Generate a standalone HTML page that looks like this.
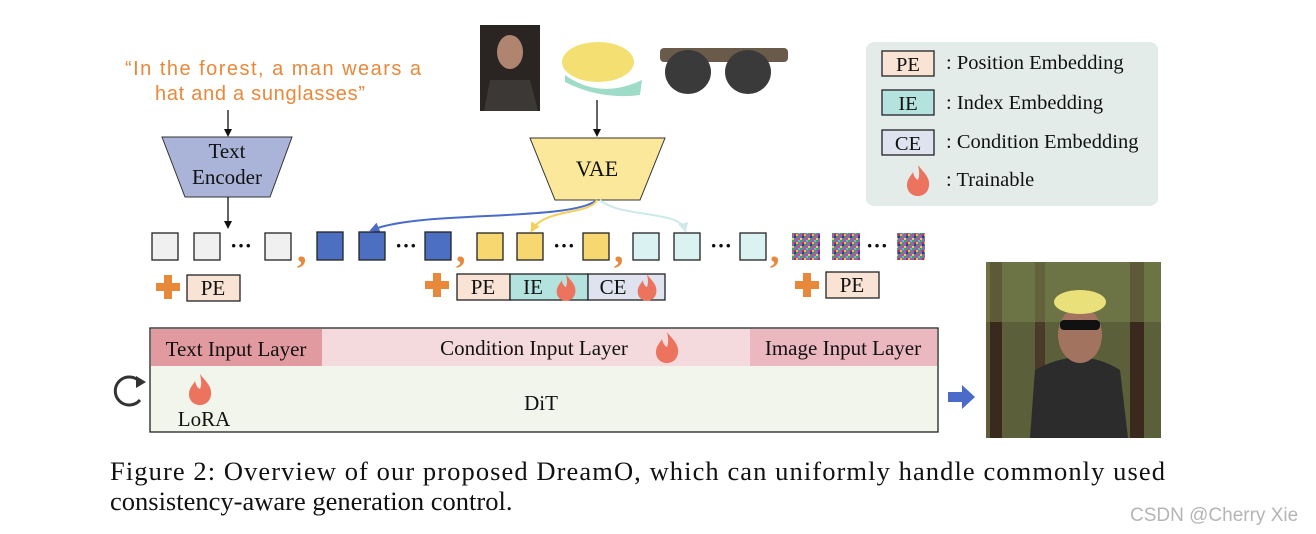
<!DOCTYPE html>
<html><head><meta charset="utf-8"><style>
html,body{margin:0;padding:0;background:#fff;}
svg{display:block;}
.s{font-family:"Liberation Serif",serif;fill:#111;}
</style></head><body>
<svg width="1316" height="534" viewBox="0 0 1316 534" xmlns="http://www.w3.org/2000/svg">
<defs>
<g id="fl"><path d="M0,-16 C6,-8 12,-4 11,5 C10,12 5,15 0,15 C-6,15 -11,11 -11,4 C-11,-2 -7,-5 -5,-9 C-4,-4 -2,-2 0,-1 C2,-6 1,-11 0,-16Z" fill="#ec735e"/></g>
<marker id="ab" markerWidth="8" markerHeight="8" refX="6" refY="4" orient="auto" markerUnits="userSpaceOnUse"><path d="M0,0 L8,4 L0,8Z" fill="#111"/></marker>
<marker id="abl" markerWidth="10" markerHeight="10" refX="7" refY="5" orient="auto" markerUnits="userSpaceOnUse"><path d="M0,0 L10,5 L0,10Z" fill="#4a6bc8"/></marker>
<marker id="ay" markerWidth="10" markerHeight="10" refX="7" refY="5" orient="auto" markerUnits="userSpaceOnUse"><path d="M0,0 L10,5 L0,10Z" fill="#f4cf5c"/></marker>
<marker id="ac" markerWidth="10" markerHeight="10" refX="7" refY="5" orient="auto" markerUnits="userSpaceOnUse"><path d="M0,0 L10,5 L0,10Z" fill="#cde9ea"/></marker>
<pattern id="nz" width="8" height="8" patternUnits="userSpaceOnUse">
<rect width="8" height="8" fill="#8a6aa8"/><rect x="0" y="0" width="2" height="2" fill="#3ba85a"/><rect x="4" y="2" width="2" height="2" fill="#e0c640"/><rect x="2" y="4" width="2" height="2" fill="#2a3aa0"/><rect x="6" y="6" width="2" height="2" fill="#d04a8a"/><rect x="6" y="0" width="2" height="2" fill="#5ac0c0"/><rect x="0" y="6" width="2" height="2" fill="#c8e060"/><rect x="4" y="4" width="2" height="2" fill="#40a040"/><rect x="2" y="2" width="2" height="2" fill="#b03060"/>
</pattern>
</defs>

<!-- quote -->
<text x="125" y="75" font-family="Liberation Sans,sans-serif" font-size="20" fill="#e8883a" textLength="296" lengthAdjust="spacing">“In the forest, a man wears a</text>
<text x="155" y="100" font-family="Liberation Sans,sans-serif" font-size="20" fill="#e8883a" textLength="210" lengthAdjust="spacing">hat and a sunglasses”</text>
<line x1="228" y1="110" x2="228" y2="135" stroke="#111" stroke-width="1.3" marker-end="url(#ab)"/>
<polygon points="162,137 292,137 270,197 185,197" fill="#aab4d8" stroke="#333" stroke-width="1"/>
<text x="227" y="158" class="s" font-size="21" text-anchor="middle">Text</text>
<text x="227" y="184" class="s" font-size="21" text-anchor="middle">Encoder</text>
<line x1="228" y1="197" x2="228" y2="227" stroke="#111" stroke-width="1.3" marker-end="url(#ab)"/>

<!-- photos -->
<rect x="480" y="25" width="60" height="86" fill="#2a2522"/>
<ellipse cx="510" cy="52" rx="13" ry="17" fill="#b08570"/>
<path d="M484,111 L490,80 L530,80 L538,111Z" fill="#3c3835"/>
<ellipse cx="598" cy="62" rx="36" ry="20" fill="#f3df72"/>
<path d="M565,75 Q600,100 642,80 L640,95 Q600,100 565,82Z" fill="#9fdcc8"/>
<rect x="660" y="48" width="128" height="14" rx="4" fill="#6a5a4a"/>
<ellipse cx="688" cy="72" rx="23" ry="22" fill="#3a3a3a"/>
<ellipse cx="748" cy="72" rx="23" ry="22" fill="#3a3a3a"/>
<line x1="597" y1="100" x2="597" y2="135" stroke="#111" stroke-width="1.3" marker-end="url(#ab)"/>
<polygon points="530,138 665,138 640,200 555,200" fill="#fbe89a" stroke="#333" stroke-width="1"/>
<text x="597" y="176" class="s" font-size="22" text-anchor="middle">VAE</text>

<!-- curved arrows -->
<path d="M597,200 C570,222 420,210 372,230" fill="none" stroke="#4a6bc8" stroke-width="2" marker-end="url(#abl)"/>
<path d="M597,200 C590,215 545,208 532,230" fill="none" stroke="#f4cf5c" stroke-width="2" marker-end="url(#ay)"/>
<path d="M600,200 C620,218 680,210 685,230" fill="none" stroke="#cde9ea" stroke-width="2" marker-end="url(#ac)"/>

<!-- legend -->
<rect x="866" y="42" width="292" height="164" rx="8" fill="#e4ece9"/>
<rect x="882" y="51" width="52" height="25" fill="#f8e3d4" stroke="#222" stroke-width="1.3"/>
<text x="908" y="71" class="s" font-size="20.5" text-anchor="middle">PE</text>
<text x="946" y="69" class="s" font-size="20.5">: Position Embedding</text>
<rect x="882" y="90" width="52" height="25" fill="#b4e3df" stroke="#222" stroke-width="1.3"/>
<text x="908" y="110" class="s" font-size="20.5" text-anchor="middle">IE</text>
<text x="946" y="109" class="s" font-size="20.5">: Index Embedding</text>
<rect x="882" y="130" width="52" height="25" fill="#dfe2ef" stroke="#222" stroke-width="1.3"/>
<text x="908" y="150" class="s" font-size="20.5" text-anchor="middle">CE</text>
<text x="946" y="148" class="s" font-size="20.5">: Condition Embedding</text>
<use href="#fl" transform="translate(918,181)"/>
<text x="946" y="186" class="s" font-size="20.5">: Trainable</text>

<!-- tokens -->
<g stroke="#222" stroke-width="1.3">
<rect x="152" y="233" width="26" height="27" fill="#f0f0f0"/>
<rect x="194" y="233" width="26" height="27" fill="#f0f0f0"/>
<rect x="265" y="233" width="26" height="27" fill="#f0f0f0"/>
<rect x="317" y="232" width="26" height="28" fill="#4c6fc2"/>
<rect x="359" y="232" width="26" height="28" fill="#4c6fc2"/>
<rect x="425" y="232" width="26" height="28" fill="#4c6fc2"/>
<rect x="477" y="233" width="26" height="27" fill="#f6d770"/>
<rect x="517" y="233" width="26" height="27" fill="#f6d770"/>
<rect x="583" y="233" width="26" height="27" fill="#f6d770"/>
<rect x="633" y="233" width="26" height="27" fill="#daf2f2"/>
<rect x="674" y="233" width="26" height="27" fill="#daf2f2"/>
<rect x="740" y="233" width="26" height="27" fill="#daf2f2"/>
</g>
<rect x="792" y="233" width="28" height="27" fill="url(#nz)"/>
<rect x="832" y="233" width="28" height="27" fill="url(#nz)"/>
<rect x="897" y="233" width="28" height="27" fill="url(#nz)"/>
<g class="s" font-size="22" font-weight="bold">
<text x="230" y="253">···</text><text x="395" y="253">···</text><text x="553" y="253">···</text><text x="710" y="253">···</text><text x="866" y="253">···</text>
</g>
<g font-family="Liberation Serif,serif" font-size="38" font-weight="bold" fill="#e8883a">
<text x="297" y="262">,</text><text x="456" y="262">,</text><text x="614" y="262">,</text><text x="770" y="262">,</text>
</g>
<!-- plus -->
<g fill="#e8883a">
<rect x="156" y="283" width="24" height="8"/><rect x="164" y="275" width="8" height="24"/>
<rect x="425" y="281" width="24" height="8"/><rect x="433" y="273" width="8" height="24"/>
<rect x="795" y="281" width="24" height="8"/><rect x="803" y="273" width="8" height="24"/>
</g>
<g stroke="#222" stroke-width="1.3">
<rect x="187" y="275" width="53" height="26" fill="#f8e3d4"/>
<rect x="457" y="274" width="53" height="26" fill="#f8e3d4"/>
<rect x="510" y="274" width="78" height="26" fill="#b4e3df"/>
<rect x="588" y="274" width="77" height="26" fill="#dfe2ef"/>
<rect x="826" y="272" width="53" height="26" fill="#f8e3d4"/>
</g>
<g class="s" font-size="21" text-anchor="middle">
<text x="213" y="295">PE</text><text x="483" y="294">PE</text><text x="533" y="294">IE</text><text x="613" y="294">CE</text><text x="852" y="292">PE</text>
</g>
<use href="#fl" transform="translate(566,288) scale(0.85)"/>
<use href="#fl" transform="translate(647,288) scale(0.85)"/>

<!-- DiT -->
<rect x="150" y="328" width="788" height="104" fill="#f2f5ec" stroke="#222" stroke-width="1.3"/>
<rect x="322" y="329" width="428" height="37" fill="#f5dadd"/>
<rect x="151" y="329" width="171" height="37" fill="#e09aa0"/>
<rect x="750" y="329" width="187" height="37" fill="#ebb8bf"/>
<g class="s" font-size="21">
<text x="236" y="356" text-anchor="middle">Text Input Layer</text>
<text x="534" y="355" text-anchor="middle">Condition Input Layer</text>
<text x="843" y="355" text-anchor="middle">Image Input Layer</text>
<text x="541" y="410" text-anchor="middle">DiT</text>
<text x="204" y="426" text-anchor="middle">LoRA</text>
</g>
<use href="#fl" transform="translate(667,348)"/>
<use href="#fl" transform="translate(200,390)"/>
<path d="M140,382 A14,14 0 1 0 140,400" fill="none" stroke="#333" stroke-width="3"/>
<path d="M136,376 L146,382 L136,388Z" fill="#333"/>
<path d="M948,392 L962,392 L962,385 L975,397 L962,409 L962,402 L948,402Z" fill="#4a6bc8"/>

<!-- output photo -->
<rect x="986" y="262" width="175" height="176" fill="#5b5f3a"/>
<rect x="990" y="262" width="12" height="176" fill="#3a2a1e"/>
<rect x="1035" y="262" width="10" height="176" fill="#4a3a28"/>
<rect x="1130" y="262" width="14" height="176" fill="#3a2a1e"/>
<rect x="986" y="262" width="175" height="60" fill="#7e8a50" opacity="0.5"/>
<path d="M1030,438 L1035,370 Q1080,345 1120,370 L1128,438Z" fill="#2c2c2c"/>
<ellipse cx="1080" cy="335" rx="22" ry="28" fill="#a27460"/>
<ellipse cx="1080" cy="302" rx="26" ry="12" fill="#e9e07a"/>
<rect x="1060" y="320" width="40" height="10" rx="4" fill="#111"/>

<!-- caption -->
<text x="110" y="480" class="s" font-size="26.5" textLength="1055" lengthAdjust="spacing">Figure 2:  Overview of our proposed DreamO, which can uniformly handle commonly used</text>
<text x="110" y="510" class="s" font-size="26.5">consistency-aware generation control.</text>
<text x="1130" y="521" font-family="Liberation Sans,sans-serif" font-size="19" fill="#b5b5b5">CSDN @Cherry Xie</text>
</svg>
</body></html>
